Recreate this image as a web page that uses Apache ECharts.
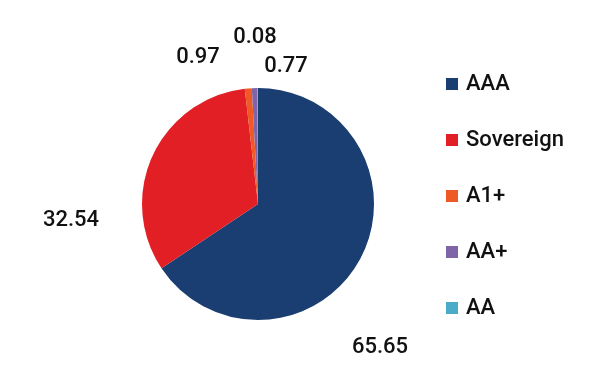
<!DOCTYPE html>
<html>
<head>
<meta charset="utf-8">
<script src="https://cdn.jsdelivr.net/npm/echarts@6/dist/echarts.min.js"></script>
<style>
  html, body { margin: 0; padding: 0; background: #fff; }
  #chart { width: 610px; height: 378px; }
</style>
</head>
<body>
<div id="chart"></div>
<script>
const ratings = ["AAA", "Sovereign", "A1+", "AA+", "AA"];
const shares = [65.65, 32.54, 0.97, 0.77, 0.08];
const colors = ["#1b3e72", "#e31f26", "#ef5a24", "#8064a8", "#4aacc9"];

// where each value label sits, relative to the pie centre
const labelShift = [
  [122, 143],
  [-187, 16],
  [-60, -147],
  [28, -138],
  [-3, -167],
];

const center = [258, 204];

const chart = echarts.init(document.getElementById("chart"));

const option = {
  animation: false,
  color: colors,
  textStyle: { fontFamily: "Roboto" },
  legend: {
    orient: "vertical",
    left: 446,
    top: 72,
    padding: 0,
    itemWidth: 12,
    itemHeight: 12,
    itemGap: 32,
    icon: "rect",
    textStyle: {
      fontSize: 22,
      fontWeight: 500,
      color: "#111",
      lineHeight: 24,
      padding: [0, 0, 0, 3],
    },
    data: ratings,
  },
  series: [
    {
      type: "pie",
      center: center,
      radius: 116,
      startAngle: 90,
      clockwise: true,
      avoidLabelOverlap: false,
      label: {
        show: true,
        position: "outside",
        formatter: "{c}",
        fontSize: 22,
        fontWeight: 500,
        color: "#111",
      },
      labelLine: { show: false },
      labelLayout: function (params) {
        const s = labelShift[params.dataIndex];
        return {
          x: center[0] + s[0],
          y: center[1] + s[1],
          align: "center",
          verticalAlign: "middle",
        };
      },
      emphasis: { disabled: true },
      data: ratings.map((name, i) => ({ name: name, value: shares[i] })),
    },
  ],
};

chart.setOption(option);
</script>
</body>
</html>
